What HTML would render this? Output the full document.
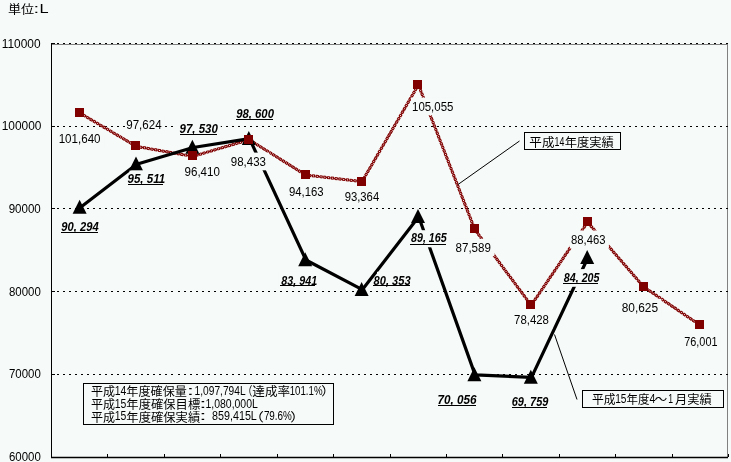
<!DOCTYPE html>
<html lang="ja"><head><meta charset="utf-8"><title>chart</title>
<style>
html,body{margin:0;padding:0;background:#f6faf8;}
svg{display:block;}

text{fill:#000;}
.rl,.ax{font-family:'Liberation Sans', sans-serif;font-size:12px;}
.bl{font-family:'Liberation Sans', sans-serif;font-size:12px;font-weight:bold;font-style:italic;}
.cj{font-family:'Liberation Sans', 'Noto Sans CJK JP', 'IPAGothic', sans-serif;font-size:12px;}

</style></head><body>
<svg width="731" height="462" viewBox="0 0 731 462">
<rect x="0" y="0" width="731" height="462" fill="#f6faf8"/>
<line x1="51" y1="44.5" x2="728" y2="44.5" stroke="#808080" stroke-width="1"/>
<line x1="727.5" y1="44" x2="727.5" y2="457" stroke="#808080" stroke-width="1"/>
<line x1="57" y1="43.5" x2="729" y2="43.5" stroke="#000" stroke-width="1" stroke-dasharray="2 4.025" shape-rendering="crispEdges"/>
<line x1="57" y1="126.5" x2="729" y2="126.5" stroke="#000" stroke-width="1" stroke-dasharray="2 4.025" shape-rendering="crispEdges"/>
<line x1="57" y1="208.5" x2="729" y2="208.5" stroke="#000" stroke-width="1" stroke-dasharray="2 4.025" shape-rendering="crispEdges"/>
<line x1="57" y1="291.5" x2="729" y2="291.5" stroke="#000" stroke-width="1" stroke-dasharray="2 4.025" shape-rendering="crispEdges"/>
<line x1="57" y1="374.5" x2="729" y2="374.5" stroke="#000" stroke-width="1" stroke-dasharray="2 4.025" shape-rendering="crispEdges"/>
<line x1="51.5" y1="43" x2="51.5" y2="458" stroke="#000" stroke-width="1"/>
<line x1="51" y1="457.5" x2="728" y2="457.5" stroke="#000" stroke-width="1.4"/>
<line x1="52" y1="43.5" x2="55" y2="43.5" stroke="#000" stroke-width="1"/>
<line x1="52" y1="126.5" x2="55" y2="126.5" stroke="#000" stroke-width="1"/>
<line x1="52" y1="208.5" x2="55" y2="208.5" stroke="#000" stroke-width="1"/>
<line x1="52" y1="291.5" x2="55" y2="291.5" stroke="#000" stroke-width="1"/>
<line x1="52" y1="374.5" x2="55" y2="374.5" stroke="#000" stroke-width="1"/>
<line x1="107.5" y1="454" x2="107.5" y2="457" stroke="#000" stroke-width="1"/>
<line x1="164.5" y1="454" x2="164.5" y2="457" stroke="#000" stroke-width="1"/>
<line x1="220.5" y1="454" x2="220.5" y2="457" stroke="#000" stroke-width="1"/>
<line x1="277.5" y1="454" x2="277.5" y2="457" stroke="#000" stroke-width="1"/>
<line x1="333.5" y1="454" x2="333.5" y2="457" stroke="#000" stroke-width="1"/>
<line x1="390.5" y1="454" x2="390.5" y2="457" stroke="#000" stroke-width="1"/>
<line x1="446.5" y1="454" x2="446.5" y2="457" stroke="#000" stroke-width="1"/>
<line x1="502.5" y1="454" x2="502.5" y2="457" stroke="#000" stroke-width="1"/>
<line x1="559.5" y1="454" x2="559.5" y2="457" stroke="#000" stroke-width="1"/>
<line x1="615.5" y1="454" x2="615.5" y2="457" stroke="#000" stroke-width="1"/>
<line x1="672.5" y1="454" x2="672.5" y2="457" stroke="#000" stroke-width="1"/>
<line x1="728.5" y1="454" x2="728.5" y2="457" stroke="#000" stroke-width="1"/>
<polyline points="80.0,113.1 136.4,146.4 192.8,156.4 249.2,139.7 305.6,175.0 362.0,181.6 418.4,84.8 474.8,229.5 531.2,305.3 587.6,222.2 644.0,287.1 700.4,325.4" fill="none" stroke="#800000" stroke-width="3" stroke-dasharray="3 0.8"/>
<polyline points="80.0,113.1 136.4,146.4 192.8,156.4 249.2,139.7 305.6,175.0 362.0,181.6 418.4,84.8 474.8,229.5 531.2,305.3 587.6,222.2 644.0,287.1 700.4,325.4" fill="none" stroke="#800000" stroke-width="1.2"/>
<polyline points="80.0,113.1 136.4,146.4 192.8,156.4 249.2,139.7 305.6,175.0 362.0,181.6 418.4,84.8 474.8,229.5 531.2,305.3 587.6,222.2 644.0,287.1 700.4,325.4" fill="none" stroke="#fff" stroke-width="1" stroke-dasharray="1 2.8" stroke-dashoffset="-1"/>
<polyline points="80.3,207.4 136.7,164.2 193.1,147.5 249.5,138.6 305.9,260.0 362.3,289.7 418.7,216.7 475.1,374.9 531.5,377.4 587.9,257.8" fill="none" stroke="#000" stroke-width="3.2" stroke-linejoin="round"/>
<polygon points="79.6,199.7 86.6,213.7 72.6,213.7" fill="#000"/>
<polygon points="136.0,156.5 143.0,170.5 129.0,170.5" fill="#000"/>
<polygon points="192.4,139.8 199.4,153.8 185.4,153.8" fill="#000"/>
<polygon points="248.8,130.9 255.8,144.9 241.8,144.9" fill="#000"/>
<polygon points="305.2,252.3 312.2,266.3 298.2,266.3" fill="#000"/>
<polygon points="361.6,282.0 368.6,296.0 354.6,296.0" fill="#000"/>
<polygon points="418.0,209.0 425.0,223.0 411.0,223.0" fill="#000"/>
<polygon points="474.4,367.2 481.4,381.2 467.4,381.2" fill="#000"/>
<polygon points="530.8,369.7 537.8,383.7 523.8,383.7" fill="#000"/>
<polygon points="587.2,250.1 594.2,264.1 580.2,264.1" fill="#000"/>
<rect x="75" y="108" width="9" height="9" fill="#800000"/>
<rect x="131" y="141" width="9" height="9" fill="#800000"/>
<rect x="188" y="151" width="9" height="9" fill="#800000"/>
<rect x="244" y="135" width="9" height="9" fill="#800000"/>
<rect x="301" y="170" width="9" height="9" fill="#800000"/>
<rect x="357" y="177" width="9" height="9" fill="#800000"/>
<rect x="413" y="80" width="9" height="9" fill="#800000"/>
<rect x="470" y="224" width="9" height="9" fill="#800000"/>
<rect x="526" y="300" width="9" height="9" fill="#800000"/>
<rect x="583" y="217" width="9" height="9" fill="#800000"/>
<rect x="639" y="282" width="9" height="9" fill="#800000"/>
<rect x="695" y="320" width="9" height="9" fill="#800000"/>
<rect x="57.6" y="129.4" width="46.6" height="17.7" fill="#f6faf8"/>
<rect x="125.2" y="116.2" width="39.7" height="17.3" fill="#f6faf8"/>
<rect x="183.5" y="162.6" width="39.8" height="17.6" fill="#f6faf8"/>
<rect x="229.8" y="152.6" width="39.5" height="17.7" fill="#f6faf8"/>
<rect x="287.9" y="182.5" width="39.1" height="17.6" fill="#f6faf8"/>
<rect x="343.6" y="187.5" width="38.9" height="17.9" fill="#f6faf8"/>
<rect x="411.0" y="97.6" width="46.0" height="17.7" fill="#f6faf8"/>
<rect x="454.5" y="238.8" width="39.8" height="17.3" fill="#f6faf8"/>
<rect x="513.0" y="310.8" width="39.3" height="18.1" fill="#f6faf8"/>
<rect x="570.0" y="230.5" width="38.9" height="18.0" fill="#f6faf8"/>
<rect x="620.7" y="298.8" width="40.7" height="17.7" fill="#f6faf8"/>
<rect x="683.1" y="332.4" width="37.8" height="18.1" fill="#f6faf8"/>
<rect x="59.2" y="217.5" width="42.4" height="18.1" fill="#f6faf8"/>
<line x1="61" y1="232.5" x2="98" y2="232.5" stroke="#000" stroke-width="1"/>
<rect x="129.5" y="170.6" width="37.6" height="17.5" fill="#f6faf8"/>
<line x1="128" y1="184.5" x2="163" y2="184.5" stroke="#000" stroke-width="1"/>
<rect x="177.5" y="119.9" width="43.3" height="17.7" fill="#f6faf8"/>
<line x1="180" y1="134.5" x2="217" y2="134.5" stroke="#000" stroke-width="1"/>
<rect x="234.1" y="104.8" width="42.8" height="17.8" fill="#f6faf8"/>
<line x1="236" y1="119.5" x2="273" y2="119.5" stroke="#000" stroke-width="1"/>
<rect x="278.3" y="271.8" width="40.9" height="17.7" fill="#f6faf8"/>
<line x1="280" y1="285.5" x2="315" y2="285.5" stroke="#000" stroke-width="1"/>
<rect x="377.0" y="271.8" width="36.6" height="17.7" fill="#f6faf8"/>
<line x1="373" y1="285.5" x2="410" y2="285.5" stroke="#000" stroke-width="1"/>
<rect x="411.5" y="230.2" width="38.2" height="17.1" fill="#f6faf8"/>
<line x1="410" y1="244.5" x2="446" y2="244.5" stroke="#000" stroke-width="1"/>
<rect x="435.5" y="390.8" width="44.1" height="17.9" fill="#f6faf8"/>
<line x1="438" y1="405.5" x2="476" y2="405.5" stroke="#000" stroke-width="1"/>
<rect x="509.7" y="392.9" width="41.6" height="18.1" fill="#f6faf8"/>
<line x1="512" y1="407.5" x2="547" y2="407.5" stroke="#000" stroke-width="1"/>
<rect x="560.8" y="269.1" width="41.7" height="17.7" fill="#f6faf8"/>
<line x1="563" y1="283.5" x2="598" y2="283.5" stroke="#000" stroke-width="1"/>
<line x1="519.5" y1="141" x2="458" y2="184.5" stroke="#000" stroke-width="1"/>
<rect x="524.5" y="132.5" width="96" height="17" fill="#f6faf8" stroke="#000" stroke-width="1"/>
<line x1="554.5" y1="334.5" x2="577" y2="399.5" stroke="#000" stroke-width="1"/>
<rect x="582.5" y="390.5" width="141" height="17" fill="#f6faf8" stroke="#000" stroke-width="1"/>
<rect x="83.5" y="383.5" width="250" height="41" fill="#f6faf8" stroke="#000" stroke-width="1"/>
<text x="58.63" y="142.60" class="rl" textLength="41.94" lengthAdjust="spacingAndGlyphs">101,640</text>
<text x="126.24" y="129.00" class="rl" textLength="35.34" lengthAdjust="spacingAndGlyphs">97,624</text>
<text x="184.53" y="175.70" class="rl" textLength="35.44" lengthAdjust="spacingAndGlyphs">96,410</text>
<text x="230.84" y="165.80" class="rl" textLength="35.13" lengthAdjust="spacingAndGlyphs">98,433</text>
<text x="288.95" y="195.60" class="rl" textLength="34.71" lengthAdjust="spacingAndGlyphs">94,163</text>
<text x="344.66" y="200.90" class="rl" textLength="34.50" lengthAdjust="spacingAndGlyphs">93,364</text>
<text x="412.05" y="110.80" class="rl" textLength="41.32" lengthAdjust="spacingAndGlyphs">105,055</text>
<text x="455.53" y="251.60" class="rl" textLength="35.44" lengthAdjust="spacingAndGlyphs">87,589</text>
<text x="514.05" y="324.40" class="rl" textLength="34.92" lengthAdjust="spacingAndGlyphs">78,428</text>
<text x="571.06" y="244.00" class="rl" textLength="34.50" lengthAdjust="spacingAndGlyphs">88,463</text>
<text x="621.71" y="312.00" class="rl" textLength="36.39" lengthAdjust="spacingAndGlyphs">80,625</text>
<text x="684.19" y="346.00" class="rl" textLength="33.35" lengthAdjust="spacingAndGlyphs">76,001</text>
<text x="61.27" y="230.60" class="bl" textLength="37.38" lengthAdjust="spacingAndGlyphs" xml:space="preserve">90, 294</text>
<text x="127.54" y="183.10" class="bl" textLength="37.67" lengthAdjust="spacingAndGlyphs" xml:space="preserve">95, 511</text>
<text x="179.54" y="132.60" class="bl" textLength="38.30" lengthAdjust="spacingAndGlyphs" xml:space="preserve">97, 530</text>
<text x="236.16" y="117.60" class="bl" textLength="37.79" lengthAdjust="spacingAndGlyphs" xml:space="preserve">98, 600</text>
<text x="281.30" y="284.50" class="bl" textLength="35.84" lengthAdjust="spacingAndGlyphs" xml:space="preserve">83, 941</text>
<text x="373.60" y="284.50" class="bl" textLength="37.04" lengthAdjust="spacingAndGlyphs" xml:space="preserve">80, 353</text>
<text x="411.00" y="242.30" class="bl" textLength="35.74" lengthAdjust="spacingAndGlyphs" xml:space="preserve">89, 165</text>
<text x="437.52" y="403.70" class="bl" textLength="39.12" lengthAdjust="spacingAndGlyphs" xml:space="preserve">70, 056</text>
<text x="511.79" y="406.00" class="bl" textLength="36.56" lengthAdjust="spacingAndGlyphs" xml:space="preserve">69, 759</text>
<text x="563.80" y="281.80" class="bl" textLength="35.74" lengthAdjust="spacingAndGlyphs" xml:space="preserve">84, 205</text>
<text x="1.71" y="48.00" class="ax" textLength="38.85" lengthAdjust="spacingAndGlyphs">110000</text>
<text x="1.71" y="130.00" class="ax" textLength="39.73" lengthAdjust="spacingAndGlyphs">100000</text>
<text x="8.64" y="213.00" class="ax" textLength="32.12" lengthAdjust="spacingAndGlyphs">90000</text>
<text x="8.95" y="296.00" class="ax" textLength="31.81" lengthAdjust="spacingAndGlyphs">80000</text>
<text x="8.95" y="377.80" class="ax" textLength="31.81" lengthAdjust="spacingAndGlyphs">70000</text>
<text x="8.95" y="460.50" class="ax" textLength="31.81" lengthAdjust="spacingAndGlyphs">60000</text>
<text x="7.91" y="13.70" class="cj" textLength="26.20" lengthAdjust="spacingAndGlyphs">単位</text>
<text x="33.40" y="13.00" class="ax" textLength="5.68" lengthAdjust="spacingAndGlyphs">:</text>
<text x="39.54" y="13.00" class="ax" textLength="9.10" lengthAdjust="spacingAndGlyphs">L</text>
<text x="529.35" y="146.80" class="cj" textLength="25.11" lengthAdjust="spacingAndGlyphs">平成</text>
<text x="554.57" y="145.50" class="ax" textLength="9.80" lengthAdjust="spacingAndGlyphs">14</text>
<text x="564.68" y="146.80" class="cj" textLength="49.16" lengthAdjust="spacingAndGlyphs">年度実績</text>
<text x="592.01" y="403.90" class="cj" textLength="23.69" lengthAdjust="spacingAndGlyphs">平成</text>
<text x="615.26" y="403.00" class="ax" textLength="11.24" lengthAdjust="spacingAndGlyphs">15</text>
<text x="626.55" y="403.90" class="cj" textLength="22.92" lengthAdjust="spacingAndGlyphs">年度</text>
<text x="649.40" y="403.00" class="ax" textLength="5.91" lengthAdjust="spacingAndGlyphs">4</text>
<text x="654.54" y="403.50" class="cj" textLength="12.74" lengthAdjust="spacingAndGlyphs">～</text>
<text x="668.18" y="403.00" class="ax" textLength="4.82" lengthAdjust="spacingAndGlyphs">1</text>
<text x="674.98" y="403.90" class="cj" textLength="36.76" lengthAdjust="spacingAndGlyphs">月実績</text>
<text x="90.90" y="396.30" class="cj" textLength="24.12" lengthAdjust="spacingAndGlyphs">平成</text>
<text x="114.83" y="394.60" class="ax" textLength="11.58" lengthAdjust="spacingAndGlyphs">14</text>
<text x="126.39" y="396.30" class="cj" textLength="60.53" lengthAdjust="spacingAndGlyphs">年度確保量</text>
<text x="186.70" y="394.60" class="ax" textLength="7.36" lengthAdjust="spacingAndGlyphs">:</text>
<text x="194.55" y="394.60" class="ax" textLength="51.00" lengthAdjust="spacingAndGlyphs">1,097,794L</text>
<text x="242.80" y="396.00" class="cj" textLength="9.61" lengthAdjust="spacingAndGlyphs">（</text>
<text x="252.25" y="396.30" class="cj" textLength="37.92" lengthAdjust="spacingAndGlyphs">達成率</text>
<text x="289.69" y="394.60" class="ax" textLength="32.88" lengthAdjust="spacingAndGlyphs">101.1%</text>
<text x="321.17" y="396.00" class="cj" textLength="13.62" lengthAdjust="spacingAndGlyphs">）</text>
<text x="90.90" y="409.30" class="cj" textLength="24.12" lengthAdjust="spacingAndGlyphs">平成</text>
<text x="114.83" y="407.50" class="ax" textLength="11.58" lengthAdjust="spacingAndGlyphs">15</text>
<text x="126.37" y="409.30" class="cj" textLength="73.87" lengthAdjust="spacingAndGlyphs">年度確保目標</text>
<text x="199.20" y="407.50" class="ax" textLength="7.36" lengthAdjust="spacingAndGlyphs">:</text>
<text x="205.43" y="407.50" class="ax" textLength="52.43" lengthAdjust="spacingAndGlyphs">1,080,000L</text>
<text x="90.90" y="422.30" class="cj" textLength="24.12" lengthAdjust="spacingAndGlyphs">平成</text>
<text x="114.83" y="420.30" class="ax" textLength="11.58" lengthAdjust="spacingAndGlyphs">15</text>
<text x="126.37" y="422.30" class="cj" textLength="73.87" lengthAdjust="spacingAndGlyphs">年度確保実績</text>
<text x="199.20" y="420.30" class="ax" textLength="7.36" lengthAdjust="spacingAndGlyphs">:</text>
<text x="212.00" y="420.30" class="ax" textLength="44.85" lengthAdjust="spacingAndGlyphs">859,415L</text>
<text x="248.77" y="422.00" class="cj" textLength="15.22" lengthAdjust="spacingAndGlyphs">（</text>
<text x="263.88" y="420.30" class="ax" textLength="27.97" lengthAdjust="spacingAndGlyphs">79.6%</text>
<text x="290.17" y="422.00" class="cj" textLength="14.82" lengthAdjust="spacingAndGlyphs">）</text>
</svg>
</body></html>
